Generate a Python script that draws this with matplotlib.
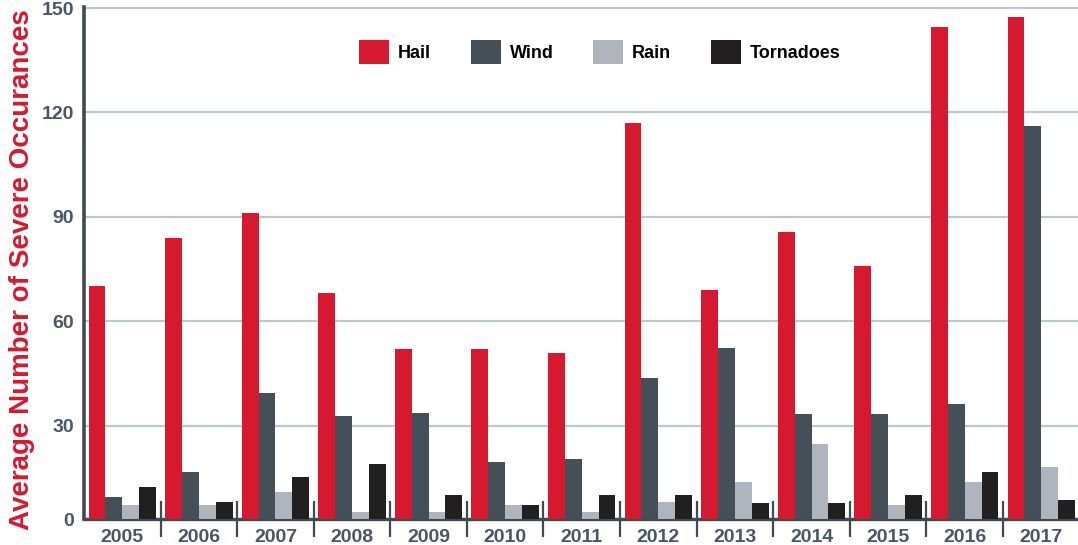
import matplotlib
matplotlib.use('Agg')
import matplotlib.pyplot as plt
import numpy as np

# données
years = ['2005', '2006', '2007', '2008', '2009', '2010', '2011',
         '2012', '2013', '2014', '2015', '2016', '2017']
hail = [70, 84, 91, 68, 52, 52, 51, 117, 69, 85.5, 76, 144.5, 147.5]
wind = [9.5, 16.7, 39.3, 32.7, 33.6, 19.6, 20.3, 43.6, 52.3, 33.4, 33.4, 36.2, 116]
rain = [7.2, 7.2, 11, 5.3, 5.3, 7.2, 5.1, 8, 13.9, 24.8, 7.3, 13.9, 18.2]
tornadoes = [12.4, 8.1, 15.1, 18.9, 10.2, 7.2, 10.1, 10.1, 7.9, 7.9, 10.1, 16.7, 8.6]

series = [('Hail', hail, '#d6192f'),
          ('Wind', wind, '#454f57'),
          ('Rain', rain, '#aeb5bc'),
          ('Tornadoes', tornadoes, '#221f20')]

axis_col = '#3f4a52'
tick_col = '#4a5663'

fig = plt.figure(figsize=(10.78, 5.45), dpi=100)
ax = fig.add_axes([84/1078, 1 - 519/545, 994/1078, 512/545])

x = np.arange(len(years))
w = 0.22
for k, (name, vals, col) in enumerate(series):
    ax.bar(x + (k - 1.5) * w, vals, w, color=col, label=name, zorder=3)

# l'axe du bas ne part pas de 0 sur l'original (les petites barres sont coupées)
y0 = 3.16
ax.set_ylim(y0, 150.3)
ax.set_xlim(-0.5, 12.48)
ax.set_yticks([y0, 30, 60, 90, 120, 150])
ax.set_yticklabels(['0', '30', '60', '90', '120', '150'])
ax.grid(axis='y', color='#b9c8d1', linewidth=1.6, zorder=0)
ax.tick_params(axis='y', length=0, pad=7, labelsize=14, labelcolor=tick_col)
for lab in ax.get_yticklabels():
    lab.set_fontweight('bold')
    lab.set_family('Liberation Sans')

ax.set_xticks(x)
ax.set_xticklabels(years, fontsize=14, fontweight='bold', color=tick_col,
                   family='Liberation Sans')
ax.tick_params(axis='x', length=0, pad=7)
ax.set_xticks(x[:-1] + 0.5, minor=True)
ax.tick_params(axis='x', which='minor', direction='inout', length=26,
               width=1.6, color=axis_col)

for s in ['top', 'right']:
    ax.spines[s].set_visible(False)
ax.spines['left'].set_linewidth(2.6)
ax.spines['left'].set_color(axis_col)
ax.spines['bottom'].set_linewidth(2.4)
ax.spines['bottom'].set_color(axis_col)

fig.text(22/1078, 1 - 270/545, 'Average Number of Severe Occurances',
         rotation=90, ha='center', va='center', color='#d6192f',
         fontsize=20, fontweight='bold', family='Liberation Sans')

ax.legend(loc='center', bbox_to_anchor=(0.519, 1 - 45/512), ncol=4,
          frameon=False, handlelength=1.66, handleheight=1.66,
          handletextpad=0.5, columnspacing=2.2,
          prop={'family': 'Liberation Sans', 'weight': 'bold', 'size': 13})

fig.savefig('out.png', dpi=100)
